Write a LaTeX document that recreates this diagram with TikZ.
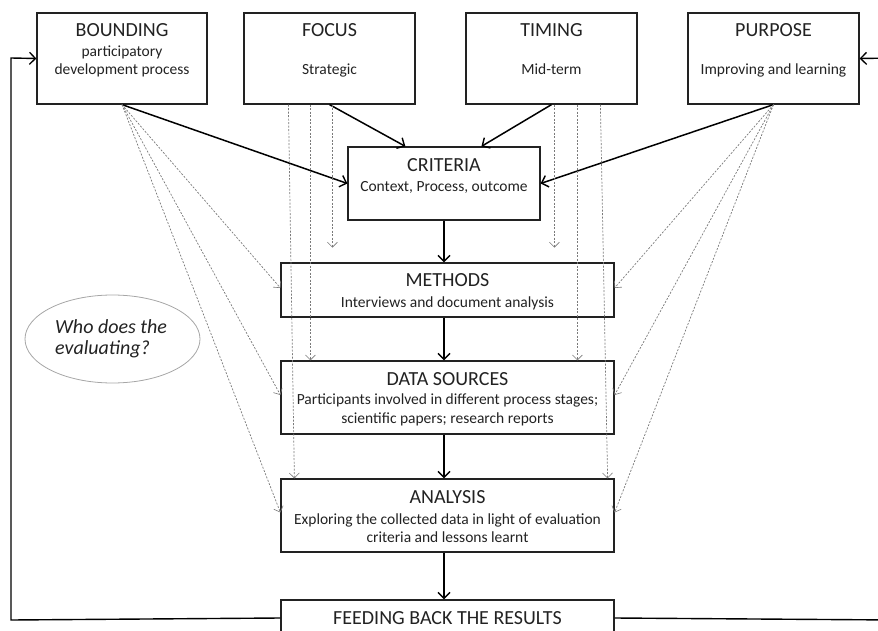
\documentclass[tikz,border=0pt]{standalone}
\usepackage{fontspec}
\setmainfont{Carlito}
\usetikzlibrary{arrows.meta,calc,shapes.geometric}
\definecolor{ink}{HTML}{222222}
\definecolor{dashgray}{HTML}{7A7A7A}
\begin{document}
\begin{tikzpicture}[x=1bp,y=-1bp,
  box/.style={draw=ink, line width=1.2bp, rectangle, inner sep=0pt},
  ttl/.style={font=\fontsize{20bp}{24bp}\selectfont, text=ink, inner sep=0pt, anchor=base},
  sub/.style={font=\fontsize{15.5bp}{19bp}\selectfont, text=ink, inner sep=0pt, anchor=base},
  flow/.style={draw=black, line width=1.5bp, -{Straight Barb[length=6bp,width=12bp,line width=1.4bp]}},
  fb/.style={draw=black, line width=1.4bp},
  dotarrow/.style={draw=dashgray, line width=0.7bp, dash pattern=on 2bp off 1.5bp, -{Straight Barb[length=5bp,width=10bp,line width=0.6bp]}},
]
\useasboundingbox (0,0) rectangle (878,631);
\clip (0,0) rectangle (878,631);

% top boxes
\node[box, minimum width=170bp, minimum height=91bp] (bound) at (122,58.5) {};
\node[box, minimum width=171bp, minimum height=91bp] (focus) at (329.5,58.5) {};
\node[box, minimum width=171bp, minimum height=91bp] (timing) at (551.5,58.5) {};
\node[box, minimum width=171bp, minimum height=91bp] (purpose) at (773.5,58.5) {};

\node[ttl] (boundt) at (122,37) {BOUNDING};
\node[sub] (bounds1) at (122,57) {participatory};
\node[sub] (bounds2) at (122,75) {development process};
\node[ttl] (focust) at (329.5,37) {FOCUS};
\node[sub] (focuss) at (329.5,75) {Strategic};
\node[ttl] (timingt) at (551.5,37) {TIMING};
\node[sub] (timings) at (551.5,75) {Mid-term};
\node[ttl] (purposet) at (773.5,37) {PURPOSE};
\node[sub] (purposes) at (773.5,75) {Improving and learning};

% middle column
\node[box, minimum width=192bp, minimum height=73bp] (crit) at (444,183.5) {};
\node[ttl] (critt) at (444,172) {CRITERIA};
\node[sub] (crits) at (444,192) {Context, Process, outcome};

\node[box, minimum width=333bp, minimum height=54bp] (meth) at (447.5,290) {};
\node[ttl] (metht) at (447.5,286) {METHODS};
\node[sub] (meths) at (447.5,307) {Interviews and document analysis};

\node[box, minimum width=333bp, minimum height=73bp] (data) at (447.5,397.5) {};
\node[ttl] (datat) at (447.5,385) {DATA SOURCES};
\node[sub] (datas1) at (447.5,404) {Participants involved in different process stages;};
\node[sub] (datas2) at (447.5,423) {scientific papers; research reports};

\node[box, minimum width=333bp, minimum height=73bp] (anal) at (447.5,515.5) {};
\node[ttl] (analt) at (447.5,503) {ANALYSIS};
\node[sub] (anals1) at (447.5,524) {Exploring the collected data in light of evaluation};
\node[sub] (anals2) at (447.5,542) {criteria and lessons learnt};

\node[box, minimum width=333bp, minimum height=50bp] (feed) at (447.5,625) {};
\node[ttl] (feedt) at (447.5,624) {FEEDING BACK THE RESULTS};

% ellipse
\node[draw=gray!70, line width=0.8bp, ellipse, minimum width=175bp, minimum height=88bp, inner sep=0pt] (who) at (112.5,339) {};
\node[font=\fontsize{20bp}{24bp}\selectfont\itshape, text=ink, inner sep=0pt, anchor=base west] (who1) at (55,333) {Who does the};
\node[font=\fontsize{20bp}{24bp}\selectfont\itshape, text=ink, inner sep=0pt, anchor=base west] (who2) at (55,354) {evaluating?};

% solid arrows into criteria
\coordinate (axis) at (444,0);
\draw[flow] (bound.south) -- (crit.west);
\draw[flow] (focus.south) -- ($(crit.north west)+(58,0)$);
\draw[flow] (timing.south) -- ($(crit.north west)+(134,0)$);
\draw[flow] (purpose.south) -- (crit.east);
\draw[flow] (crit.south) -- (axis |- meth.north);
\draw[flow] (axis |- meth.south) -- (axis |- data.north);
\draw[flow] (axis |- data.south) -- (axis |- anal.north);
\draw[flow] (axis |- anal.south) -- (axis |- feed.north);

% dashed arrows from bounding
\draw[dotarrow] (bound.south) -- ($(meth.west)+(0,-2)$);
\draw[dotarrow] (bound.south) -- ($(data.west)+(0,-2.5)$);
\draw[dotarrow] (bound.south) -- ($(anal.west)+(0,-3)$);
% dashed arrows from purpose
\draw[dotarrow] (purpose.south) -- ($(meth.east)+(0,-2)$);
\draw[dotarrow] (purpose.south) -- ($(data.east)+(0,-2.5)$);
\draw[dotarrow] (purpose.south) -- ($(anal.east)+(0,-3)$);

% vertical dashed from focus
\coordinate (f1) at ($(focus.south west)+(45,0)$);
\coordinate (f2) at ($(focus.south west)+(67,0)$);
\coordinate (f3) at ($(focus.south west)+(89,0)$);
\coordinate (f3end) at ($(focus.south west)+(89,143)$);
\draw[dotarrow] (f1) -- ($(anal.north west)+(14,0)$);
\draw[dotarrow] (f2) -- (f2 |- data.north);
\draw[dotarrow] (f3) -- (f3end);
% vertical dashed from timing
\coordinate (t1) at ($(timing.south west)+(89,0)$);
\coordinate (t1end) at ($(timing.south west)+(89,143)$);
\coordinate (t2) at ($(timing.south west)+(112,0)$);
\coordinate (t3) at ($(timing.south west)+(135,0)$);
\draw[dotarrow] (t1) -- (t1end);
\draw[dotarrow] (t2) -- (t2 |- data.north);
\draw[dotarrow] (t3) -- ($(anal.north east)+(-7,0)$);

% feedback loops
\coordinate (lb) at (11,620);
\coordinate (lt) at (11,58);
\coordinate (rb) at (895,620);
\coordinate (rt) at (895,58);
\draw[fb, -{Straight Barb[length=6bp,width=12bp,line width=1.3bp]}] ($(feed.west)+(0,-7)$) -- (lb) -- (lt) -- (bound.west);
\draw[fb, -{Straight Barb[length=6bp,width=12bp,line width=1.3bp]}] ($(feed.east)+(0,-7)$) -- (rb) -- (rt) -- (purpose.east);
\end{tikzpicture}
\end{document}
